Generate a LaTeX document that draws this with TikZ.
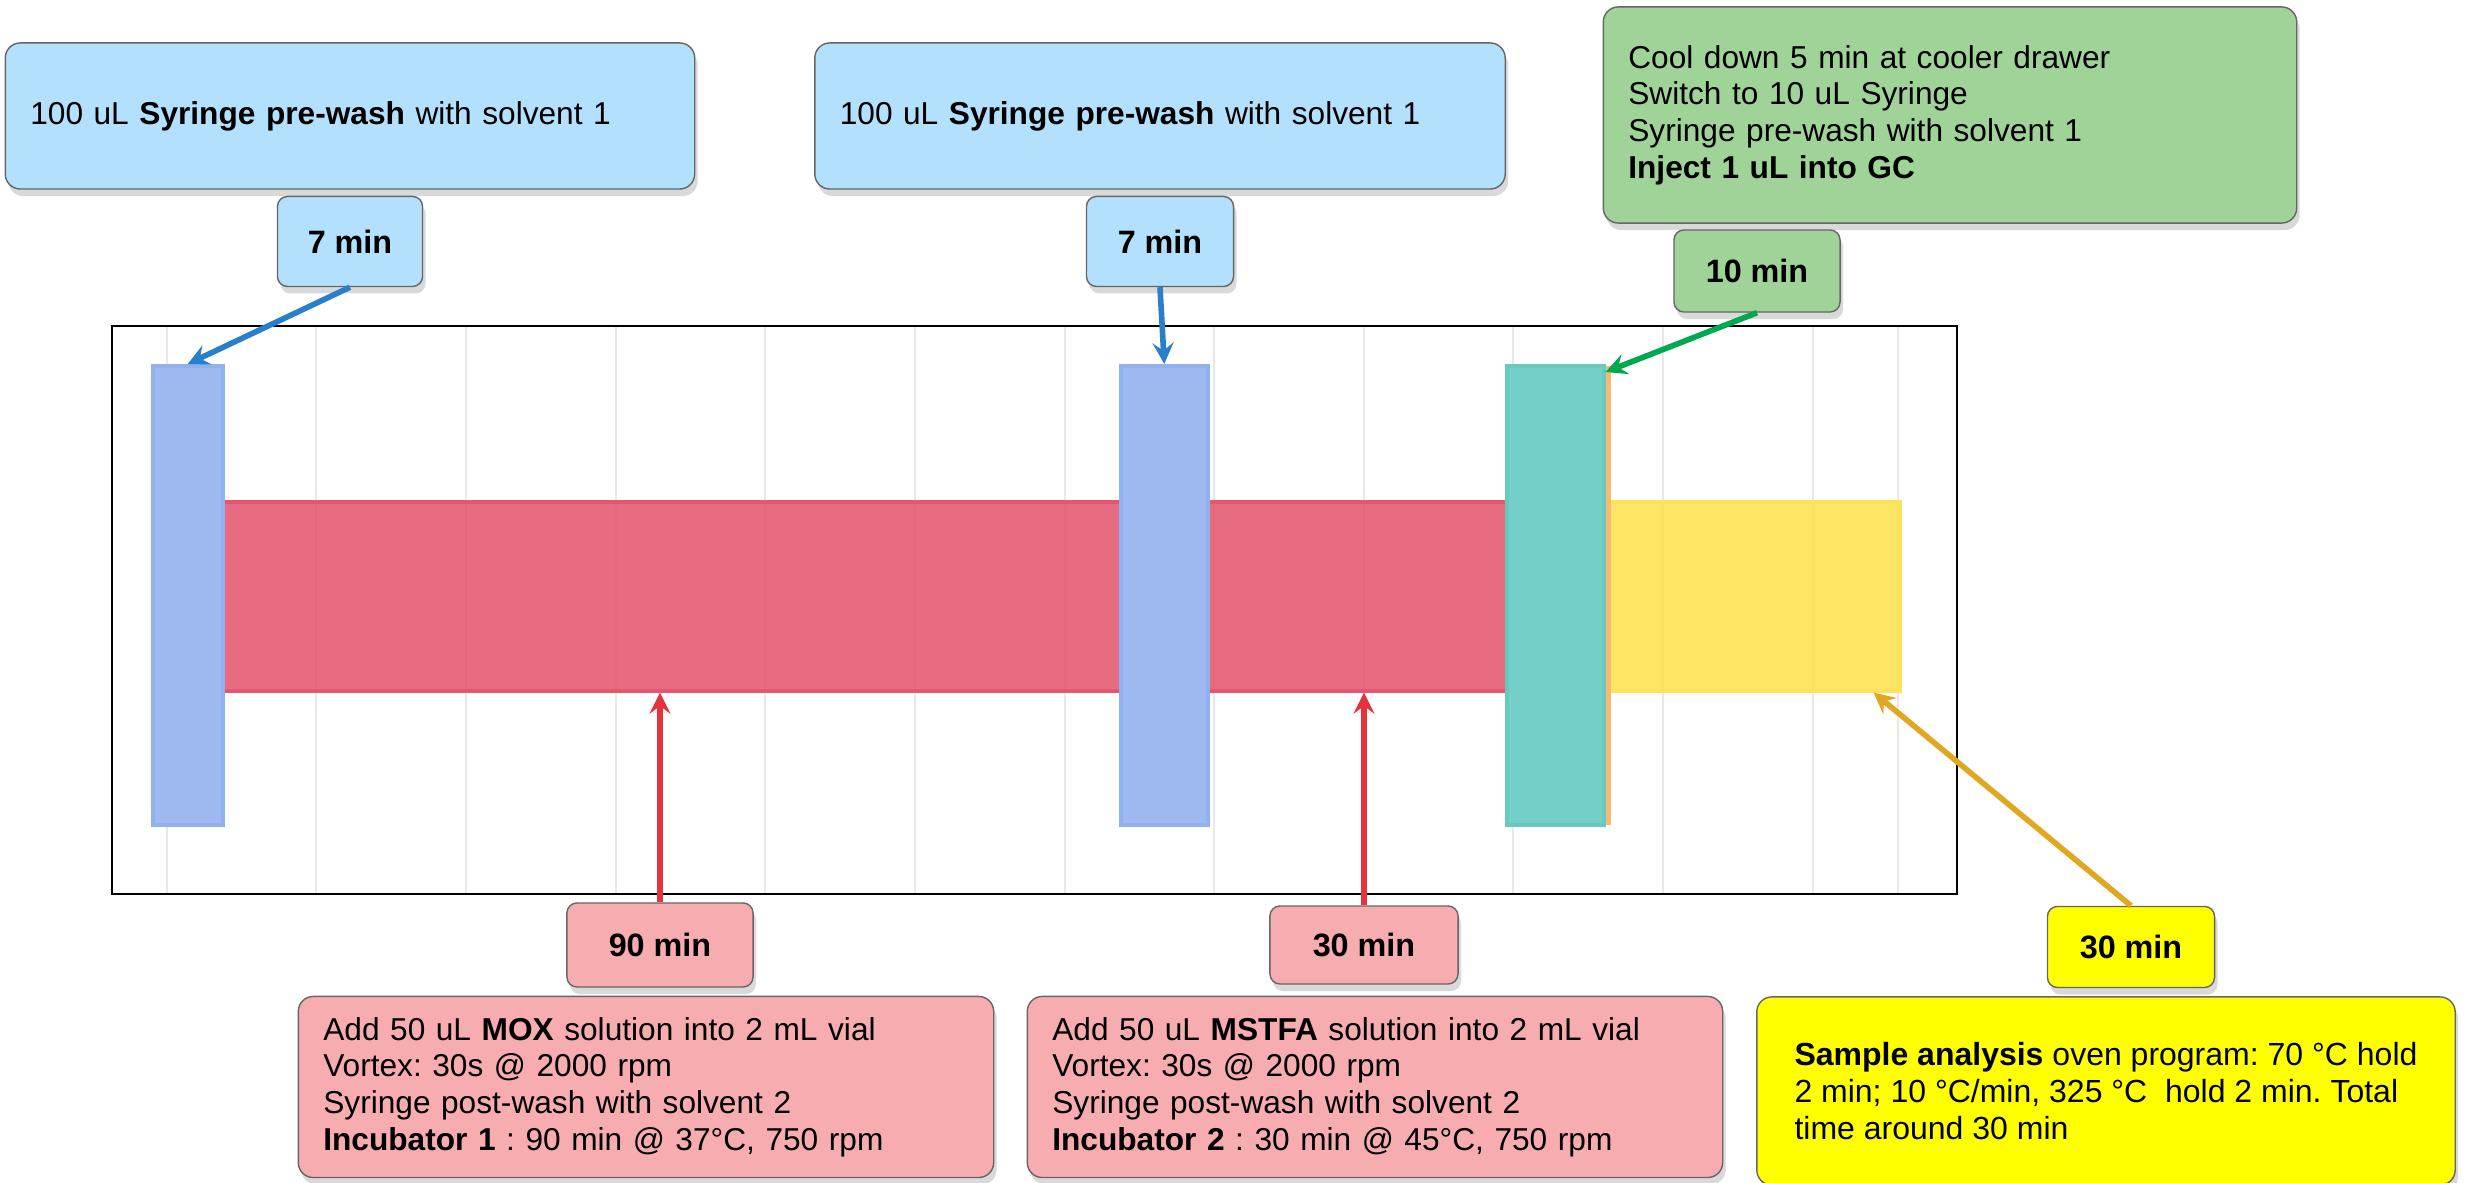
\documentclass[tikz,border=0pt]{standalone}
\usepackage{fontspec}
\setmainfont{Liberation Sans}
\usetikzlibrary{arrows, positioning, shadows}
\frenchspacing

\definecolor{boxblue}{RGB}{179,224,252}
\definecolor{boxgreen}{RGB}{160,211,152}
\definecolor{boxpink}{RGB}{247,172,176}
\definecolor{boxyellow}{RGB}{255,255,0}
\definecolor{barblue}{RGB}{157,185,240}
\definecolor{barred}{RGB}{228,88,113}
\definecolor{barteal}{RGB}{116,207,201}
\definecolor{baryellow}{RGB}{254,226,80}
\definecolor{barorange}{RGB}{245,185,113}
\definecolor{arrblue}{RGB}{42,127,203}
\definecolor{arrgreen}{RGB}{0,168,79}
\definecolor{arrred}{RGB}{229,50,60}
\definecolor{arrgold}{RGB}{224,168,32}

\begin{document}
\begin{tikzpicture}[
    x=0.01cm, y=-0.01cm,
    every node/.style={font=\fontsize{9}{10.4}\selectfont},
    note/.style={rectangle, rounded corners=1.5mm, draw=black!60, line width=0.4pt, align=left, inner xsep=0.25cm,
        drop shadow={opacity=0.3, shadow xshift=0.3mm, shadow yshift=-0.7mm}},
    tag/.style={rectangle, rounded corners=1mm, draw=black!60, line width=0.4pt, font=\fontsize{9.2}{10.4}\selectfont\bfseries,
        drop shadow={opacity=0.3, shadow xshift=0.3mm, shadow yshift=-0.7mm}},
    bar/.style={rectangle, inner sep=0pt, anchor=north west, line width=1pt},
    gridline/.style={black!9, line width=0.8pt},
    arrow/.style={->, >=stealth, line width=1.6pt}
]
    \useasboundingbox (0,0) rectangle (2471,1183);

    % Time axis
    \foreach \gx in {167,316,466,616,765,915,1065,1214,1364,1513,1663,1813,1898}
        \draw[gridline] (\gx,326) -- (\gx,894);
    \draw[black, line width=0.8pt] (112,326) rectangle (1957,894);

    % Incubation and analysis bars
    \node[bar, fill=barred, fill opacity=0.88, draw={rgb,255:red,229;green,86;blue,111}, minimum width=8.98cm, minimum height=1.89cm] (mox) at (221,500) {};
    \node[bar, fill=barred, fill opacity=0.88, draw={rgb,255:red,229;green,86;blue,111}, minimum width=2.99cm, minimum height=1.89cm] (mstfa) at (1206,500) {};
    \node[bar, fill=baryellow, fill opacity=0.88, draw={rgb,255:red,253;green,226;blue,90}, minimum width=2.90cm, minimum height=1.89cm] (gc) at (1608,500) {};

    % Syringe steps
    \node[bar, fill=barblue, draw={rgb,255:red,145;green,177;blue,238}, minimum width=0.70cm, minimum height=4.59cm] (wash1) at (151,364) {};
    \node[bar, fill=barblue, draw={rgb,255:red,145;green,177;blue,238}, minimum width=0.87cm, minimum height=4.59cm] (wash2) at (1119,364) {};
    \node[bar, fill=barorange, minimum width=0.07cm, minimum height=4.59cm] (edge) at (1602,364) {};
    \node[bar, fill=barteal, draw={rgb,255:red,104;green,201;blue,193}, minimum width=0.97cm, minimum height=4.59cm] (cool) at (1505,364) {};

    % Top notes
    \node[note, fill=boxblue, text width=6.39cm, minimum height=1.46cm] (pre1) at (350,116)
        {100 uL \textbf{Syringe pre-wash} with solvent 1};
    \node[note, fill=boxblue, text width=6.40cm, minimum height=1.46cm] (pre2) at (1160,116)
        {100 uL \textbf{Syringe pre-wash} with solvent 1};
    \node[note, fill=boxgreen, text width=6.43cm, minimum height=2.16cm] (inject) at (1950,115)
        {Cool down 5 min at cooler drawer\\Switch to 10 uL Syringe\\Syringe pre-wash with solvent 1\\\textbf{Inject 1 uL into GC}};

    \node[tag, fill=boxblue, below=0.06cm of pre1, minimum width=1.45cm, minimum height=0.9cm] (t7a) {7 min};
    \node[tag, fill=boxblue, below=0.06cm of pre2, minimum width=1.47cm, minimum height=0.9cm] (t7b) {7 min};
    \node[tag, fill=boxgreen, minimum width=1.66cm, minimum height=0.82cm] (t10) at (1757,271) {10 min};

    % Bottom notes
    \node[tag, fill=boxpink, minimum width=1.86cm, minimum height=0.84cm] (t90) at (660,945) {90 min};
    \node[tag, fill=boxpink, minimum width=1.88cm, minimum height=0.78cm] (t30r) at (1364,945) {30 min};
    \node[tag, fill=boxyellow, minimum width=1.67cm, minimum height=0.81cm] (t30y) at (2131,947) {30 min};

    \node[note, fill=boxpink, text width=6.45cm, minimum height=1.81cm] (moxnote) at (646,1087)
        {Add 50 uL \textbf{MOX} solution into 2 mL vial\\Vortex: 30s @ 2000 rpm\\Syringe post-wash with solvent 2\\\textbf{Incubator 1} : 90 min @ 37°C, 750 rpm};
    \node[note, fill=boxpink, text width=6.45cm, minimum height=1.81cm] (mstfanote) at (1375,1087)
        {Add 50 uL \textbf{MSTFA} solution into 2 mL vial\\Vortex: 30s @ 2000 rpm\\Syringe post-wash with solvent 2\\\textbf{Incubator 2} : 30 min @ 45°C, 750 rpm};
    \node[note, fill=boxyellow, font=\fontsize{9.1}{10.4}\selectfont, minimum width=6.98cm, minimum height=1.88cm] (gcnote) at (2106,1091)
        {\textbf{Sample analysis} oven program: 70 °C hold\\2 min; 10 °C/min, 325 °C~~hold 2 min. Total\\time around 30 min};

    % Arrows
    \draw[arrow, arrblue] (t7a.south) -- (wash1.north);
    \draw[arrow, arrblue] (t7b.south) -- (wash2.north);
    \draw[arrow, arrgreen] (t10.south) -- ([yshift=-0.08cm]cool.north east);
    \draw[arrow, arrred] (t90.north) -- (t90.north |- mox.south);
    \draw[arrow, arrred] (t30r.north) -- (t30r.north |- mstfa.south);
    \draw[arrow, arrgold] (t30y.north) -- ([xshift=-0.28cm]gc.south east);
\end{tikzpicture}
\end{document}
